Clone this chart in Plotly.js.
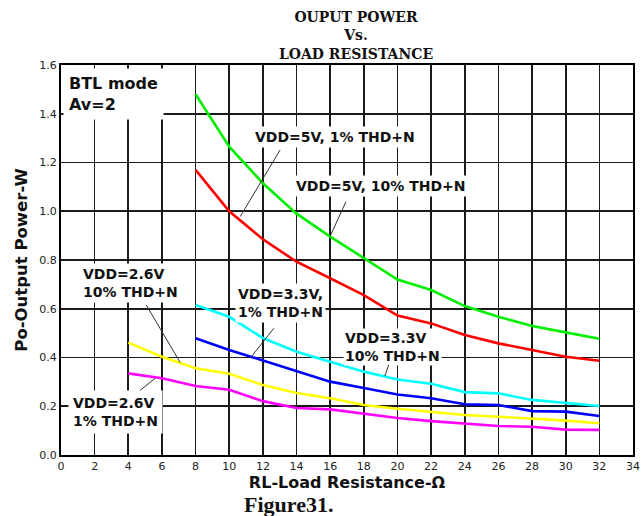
<!DOCTYPE html>
<html>
<head>
<meta charset="utf-8">
<script src="https://cdn.plot.ly/plotly-3.0.1.min.js"></script>
<style>html,body{margin:0;padding:0;background:#fff;}#chart{width:641px;height:516px;}</style>
</head>
<body>
<div id="chart"></div>
<script>
// Load resistance (ohm)
var rlHigh = [8, 10, 12, 14, 16, 18, 20, 22, 24, 26, 28, 30, 32];
var rlLow = [4, 6, 8, 10, 12, 14, 16, 18, 20, 22, 24, 26, 28, 30, 32];

// Output power (W)
var vdd5_10 = [1.48, 1.265, 1.115, 0.99, 0.896, 0.807, 0.72, 0.677, 0.611, 0.567, 0.529, 0.503, 0.477];
var vdd5_1 = [1.17, 1.0, 0.885, 0.793, 0.725, 0.656, 0.572, 0.54, 0.492, 0.458, 0.431, 0.403, 0.387];
var vdd33_10 = [0.615, 0.567, 0.48, 0.424, 0.383, 0.342, 0.31, 0.292, 0.258, 0.253, 0.226, 0.212, 0.201];
var vdd33_1 = [0.479, 0.431, 0.388, 0.346, 0.301, 0.275, 0.248, 0.233, 0.208, 0.205, 0.18, 0.178, 0.16];
var vdd26_10 = [0.461, 0.403, 0.356, 0.333, 0.287, 0.254, 0.233, 0.205, 0.19, 0.176, 0.164, 0.157, 0.15, 0.141, 0.13];
var vdd26_1 = [0.335, 0.315, 0.283, 0.268, 0.221, 0.193, 0.187, 0.168, 0.152, 0.139, 0.13, 0.119, 0.116, 0.104, 0.103];

var seriesNames = ['VDD=5V, 10% THD+N', 'VDD=5V, 1% THD+N', 'VDD=3.3V, 10% THD+N', 'VDD=3.3V, 1% THD+N', 'VDD=2.6V, 10% THD+N', 'VDD=2.6V, 1% THD+N'];
var seriesColors = ['#00ee00', '#ff0000', '#00ffff', '#0000ff', '#ffff00', '#ff00ff'];
var seriesX = [rlHigh, rlHigh, rlHigh, rlHigh, rlLow, rlLow];
var seriesY = [vdd5_10, vdd5_1, vdd33_10, vdd33_1, vdd26_10, vdd26_1];

var xTicks = [0, 2, 4, 6, 8, 10, 12, 14, 16, 18, 20, 22, 24, 26, 28, 30, 32, 34];
var yTicks = [0.0, 0.2, 0.4, 0.6, 0.8, 1.0, 1.2, 1.4, 1.6];

var traces = seriesNames.map(function (n, i) {
  return {
    x: seriesX[i], y: seriesY[i], name: n, type: 'scatter', mode: 'lines',
    line: {color: seriesColors[i], width: 2.6}, hoverinfo: 'x+y+name'
  };
});

var labelFont = {family: 'DejaVu Sans', size: 14, color: '#111', weight: 'bold'};
function label(txt, x, y, xanchor, extra) {
  var a = {text: txt, x: x, y: y, xref: 'x', yref: 'y', showarrow: false,
    xanchor: xanchor, yanchor: 'middle', align: 'left', font: labelFont,
    bgcolor: '#ffffff', borderpad: 2};
  if (extra) { for (var k in extra) a[k] = extra[k]; }
  return a;
}
function leader(x, y, ax, ay) {
  return {text: '', x: x, y: y, ax: ax, ay: ay, xref: 'x', yref: 'y', axref: 'x', ayref: 'y',
    showarrow: true, arrowhead: 0, arrowwidth: 1, arrowcolor: '#333',
    standoff: 0, startstandoff: 0, font: {size: 1}};
}

var annotations = [
  label('BTL mode<br>Av=2', 0.14, 1.588, 'left', {yanchor: 'top', font: {family: 'DejaVu Sans', size: 16, color: '#111', weight: 'bold'}, borderpad: 5}),
  label('VDD=5V, 1% THD+N', 16.28, 1.303, 'center'),
  label('VDD=5V, 10% THD+N', 19.01, 1.105, 'center'),
  label('VDD=2.6V<br>10% THD+N', 1.15, 0.704, 'left'),
  label('VDD=3.3V,<br>1% THD+N', 10.35, 0.624, 'left'),
  label('VDD=3.3V<br>10% THD+N', 16.74, 0.443, 'left', {borderpad: 1}),
  label('VDD=2.6V<br>1% THD+N', 0.44, 0.176, 'left', {borderpad: 4}),
  leader(10.65, 0.978, 13.08, 1.258),
  leader(15.99, 0.896, 16.98, 1.046),
  leader(7.09, 0.379, 5.01, 0.622),
  leader(11.24, 0.397, 12.72, 0.526),
  leader(19.25, 0.324, 19.51, 0.376),
  leader(5.6, 0.315, 4.61, 0.26),
  {text: 'Figure31.', xref: 'paper', yref: 'paper', x: 0.397, y: -0.126, showarrow: false,
    xanchor: 'center', yanchor: 'middle',
    font: {family: 'Liberation Serif', size: 22, color: '#111', weight: 'bold'}}
];

var tickFont = {family: 'DejaVu Sans', size: 11, color: '#222'};

var layout = {
  width: 641, height: 516,
  paper_bgcolor: '#ffffff', plot_bgcolor: '#ffffff',
  margin: {l: 61, r: 8, t: 65, b: 61},
  showlegend: false,
  title: {
    text: 'OUPUT POWER<br>Vs.<br>LOAD RESISTANCE',
    xref: 'container', x: 0.5554, xanchor: 'center',
    yref: 'container', y: 0.957, yanchor: 'top',
    font: {family: 'DejaVu Serif', size: 14, color: '#111', weight: 'bold'}
  },
  xaxis: {
    range: [0, 34], tickmode: 'array', tickvals: xTicks, ticktext: xTicks.map(String),
    showgrid: true, gridcolor: '#1a1a1a', gridwidth: 1.6, zeroline: false,
    showline: true, mirror: true, linecolor: '#000', linewidth: 2,
    ticks: '', tickfont: tickFont, fixedrange: true,
    title: {text: 'RL-Load Resistance-Ω', standoff: 0,
      font: {family: 'DejaVu Sans', size: 16, color: '#111', weight: 'bold'}}
  },
  yaxis: {
    range: [0, 1.6], tickmode: 'array', tickvals: yTicks, ticktext: yTicks.map(function (v) { return v.toFixed(1); }),
    showgrid: true, gridcolor: '#1a1a1a', gridwidth: 1.6, zeroline: false,
    showline: true, mirror: true, linecolor: '#000', linewidth: 2,
    ticks: '', tickfont: tickFont, fixedrange: true,
    title: {text: 'Po-Output Power-W', standoff: 8,
      font: {family: 'DejaVu Sans', size: 16.5, color: '#111', weight: 'bold'}}
  },
  annotations: annotations
};

Plotly.newPlot('chart', traces, layout, {displayModeBar: false, staticPlot: true});
</script>
</body>
</html>
